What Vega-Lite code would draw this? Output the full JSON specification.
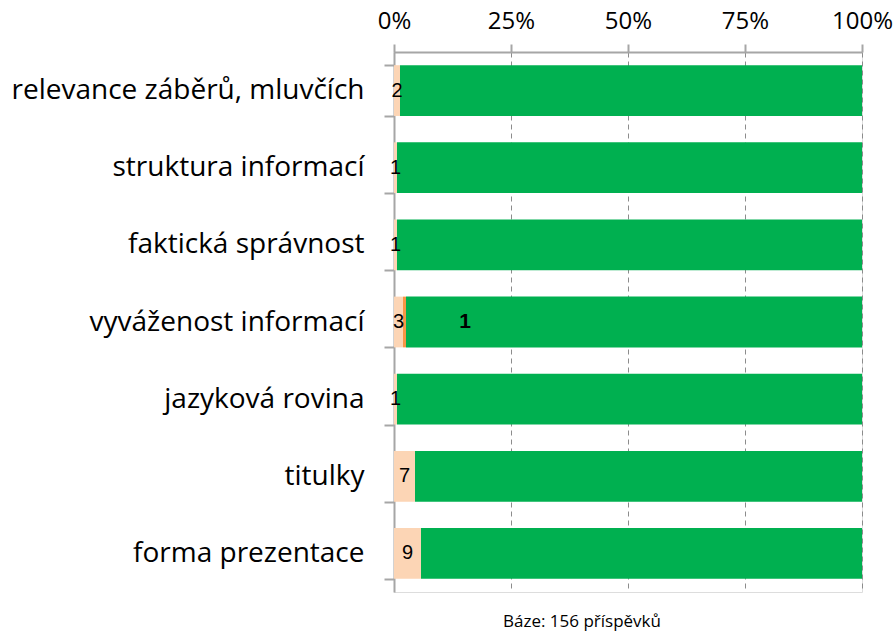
{
  "$schema": "https://vega.github.io/schema/vega-lite/v6.json",
  "autosize": {"type": "none"},
  "padding": {"left": 394, "top": 52, "right": 31, "bottom": 41},
  "width": 468,
  "height": 540,
  "background": "white",
  "title": {"text": "Báze: 156 příspěvků", "orient": "bottom", "anchor": "middle", "font": "Open Sans", "fontSize": 17, "fontWeight": "normal", "color": "#000000", "offset": 22, "dx": -46},
  "data": {"values": [
    {"cat": "relevance záběrů, mluvčích", "seg": "a", "order": 1, "value": 2},
    {"cat": "relevance záběrů, mluvčích", "seg": "b", "order": 2, "value": 0},
    {"cat": "relevance záběrů, mluvčích", "seg": "c", "order": 3, "value": 154},
    {"cat": "struktura informací", "seg": "a", "order": 1, "value": 1},
    {"cat": "struktura informací", "seg": "b", "order": 2, "value": 0},
    {"cat": "struktura informací", "seg": "c", "order": 3, "value": 155},
    {"cat": "faktická správnost", "seg": "a", "order": 1, "value": 1},
    {"cat": "faktická správnost", "seg": "b", "order": 2, "value": 0},
    {"cat": "faktická správnost", "seg": "c", "order": 3, "value": 155},
    {"cat": "vyváženost informací", "seg": "a", "order": 1, "value": 3},
    {"cat": "vyváženost informací", "seg": "b", "order": 2, "value": 1},
    {"cat": "vyváženost informací", "seg": "c", "order": 3, "value": 152},
    {"cat": "jazyková rovina", "seg": "a", "order": 1, "value": 1},
    {"cat": "jazyková rovina", "seg": "b", "order": 2, "value": 0},
    {"cat": "jazyková rovina", "seg": "c", "order": 3, "value": 155},
    {"cat": "titulky", "seg": "a", "order": 1, "value": 7},
    {"cat": "titulky", "seg": "b", "order": 2, "value": 0},
    {"cat": "titulky", "seg": "c", "order": 3, "value": 149},
    {"cat": "forma prezentace", "seg": "a", "order": 1, "value": 9},
    {"cat": "forma prezentace", "seg": "b", "order": 2, "value": 0},
    {"cat": "forma prezentace", "seg": "c", "order": 3, "value": 147}
  ]},
  "transform": [
    {"stack": "value", "groupby": ["cat"], "sort": [{"field": "order", "order": "ascending"}], "as": ["s0", "s1"], "offset": "normalize"},
    {"calculate": "(datum.s0 + datum.s1) / 2", "as": "mid"}
  ],
  "encoding": {
    "y": {"field": "cat", "type": "nominal", "sort": null,
      "scale": {"paddingInner": 0.342, "paddingOuter": 0.171},
      "axis": {"title": null, "labelFont": "Open Sans", "labelFontSize": 28, "labelColor": "#000000", "labelPadding": 20, "tickSize": 10, "tickColor": "#a6a6a6", "domainColor": "#a6a6a6", "domainWidth": 2, "tickWidth": 2, "tickBand": "extent", "labelLimit": 420}}
  },
  "layer": [
    {
      "mark": {"type": "bar"},
      "encoding": {
        "x": {"field": "s0", "type": "quantitative", "scale": {"domain": [0, 1], "nice": false},
          "axis": {"orient": "top", "title": null, "format": "%", "values": [0, 0.25, 0.5, 0.75, 1], "labelFont": "Open Sans", "labelFontSize": 24, "labelColor": "#000000", "labelPadding": 11, "tickSize": 8, "tickColor": "#a6a6a6", "tickWidth": 2, "domainColor": "#a6a6a6", "domainWidth": 2, "grid": true, "gridColor": "#8c8c8c", "gridDash": [5, 4], "gridWidth": 1, "labelFlush": false}},
        "x2": {"field": "s1"},
        "color": {"field": "seg", "type": "nominal", "scale": {"domain": ["a", "b", "c"], "range": ["#FCD5B5", "#F79646", "#00B050"]}, "legend": null}
      }
    },
    {
      "transform": [{"filter": "datum.seg == 'a'"}],
      "mark": {"type": "text", "font": "Liberation Sans", "fontSize": 20, "color": "#000000", "align": "center", "baseline": "middle"},
      "encoding": {
        "x": {"field": "mid", "type": "quantitative"},
        "text": {"field": "value", "type": "quantitative"}
      }
    },
    {
      "transform": [{"filter": "datum.seg == 'b' && datum.value > 0"}],
      "mark": {"type": "text", "font": "Liberation Sans", "fontSize": 21, "fontWeight": "bold", "color": "#000000", "align": "center", "baseline": "middle", "dx": 59},
      "encoding": {
        "x": {"field": "s1", "type": "quantitative"},
        "text": {"field": "value", "type": "quantitative"}
      }
    }
  ]
}
